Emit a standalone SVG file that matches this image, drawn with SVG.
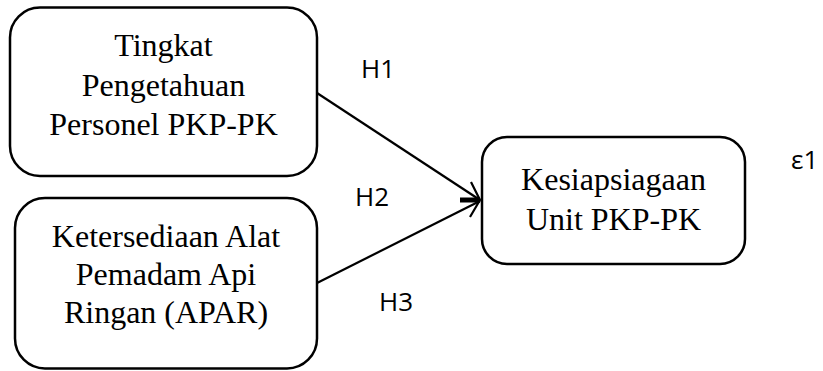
<svg xmlns="http://www.w3.org/2000/svg" width="823" height="371" viewBox="0 0 823 371">
<style>
.box{fill:#fff;stroke:#000;stroke-width:2.5}
.t{font-family:"Liberation Serif","Times New Roman",serif;font-size:32px;fill:#000;text-anchor:middle}
.h{font-family:"Open Sans","Liberation Sans",sans-serif;font-size:26px;fill:#000}
.c{fill:none;stroke:#000;stroke-width:2.2}
</style>
<rect width="823" height="371" fill="#fff"/>
<g id="connectors">
<line class="c" x1="317" y1="93" x2="480" y2="200"/>
<line class="c" x1="317" y1="283" x2="480" y2="201"/>
<line x1="460" y1="200" x2="480" y2="200" stroke="#000" stroke-width="5"/>
<polyline class="c" points="471,182 480,200 470,217"/>
</g>
<g id="node1">
<rect class="box" x="10" y="7.5" width="307" height="168.5" rx="30"/>
<text class="t" x="163.5" y="56">Tingkat</text>
<text class="t" x="163.5" y="96">Pengetahuan</text>
<text class="t" x="163.5" y="135">Personel PKP-PK</text>
</g>
<g id="node2">
<rect class="box" x="15" y="198" width="302" height="170.5" rx="30"/>
<text class="t" x="166" y="247">Ketersediaan Alat</text>
<text class="t" x="166" y="285">Pemadam Api</text>
<text class="t" x="166" y="323">Ringan (APAR)</text>
</g>
<g id="node3">
<rect class="box" x="482" y="137" width="263" height="127" rx="25"/>
<text class="t" x="613.5" y="190">Kesiapsiagaan</text>
<text class="t" x="613.5" y="230">Unit PKP-PK</text>
</g>
<g id="labels">
<text class="h" x="361" y="78">H1</text>
<text class="h" x="355" y="206">H2</text>
<text class="h" x="379" y="311">H3</text>
<text class="h" x="791" y="169">ε1</text>
</g>
</svg>
